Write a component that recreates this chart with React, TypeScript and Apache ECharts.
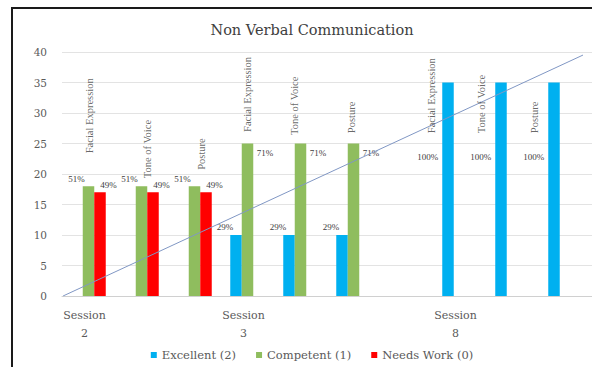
import React, { useEffect, useRef } from "react";
import * as echarts from "echarts";

// Category axis (one slot per sub-item; slot 6 is an empty gap)
const sessionLabels = ["Session\n2", "", "", "Session\n3", "", "", "", "Session\n8", "", ""];
const subLabels = [
  "Facial Expression", "Tone of Voice", "Posture",
  "Facial Expression", "Tone of Voice", "Posture",
  "",
  "Facial Expression", "Tone of Voice", "Posture",
];
// Series values (students per rating)
const excellent = [null, null, null, 10, 10, 10, null, 35, 35, 35];
const competent = [18, 18, 18, 25, 25, 25, null, null, null, null];
const needsWork = [17, 17, 17, null, null, null, null, null, null, null];
// Level (value units) where each rotated sub-item caption starts
const subLabelLevel = [23.4, 19.3, 20.7, 26.9, 26.4, 26.7, null, 26.7, 26.7, 26.7];
// Linear trendline endpoints (x in category units, y in values)
const trendX = [-0.48, 9.33];
const trendY = [0, 39.5];
const yTicks = { min: 0, max: 40, interval: 5 };

// style-only: horizontal nudge (px) of the rotated captions
const subLabelDx = [1, 6, 7, 0, -6, -2, 0, -28, -31, -31];

const BLUE = "#00b0f0";
const GREEN = "#8fbd5e";
const RED = "#ff0000";
const SERIF_WIDE = "DejaVu Serif";
const SERIF = "Liberation Serif";
const TEXT = "#5a5a5a";

export default function App() {
  const ref = useRef<HTMLDivElement>(null);

  useEffect(() => {
    document.body.style.margin = "0";
    const chart = echarts.init(ref.current!, null, { renderer: "svg" });

    const totals = sessionLabels.map(
      (_, i) => (excellent[i] || 0) + (competent[i] || 0) + (needsWork[i] || 0)
    );
    const pct = (v: number, i: number) => Math.round((v / totals[i]) * 100) + "%";
    const pctText = { fontFamily: SERIF, fontSize: 9, color: "#404040" };

    const barData = (arr: (number | null)[], place: (i: number) => any) =>
      arr.map((v, i) =>
        v == null
          ? "-"
          : {
              value: v,
              label: { show: true, formatter: pct(v, i), ...pctText, ...place(i) },
            }
      );

    // label offset is applied in the rotated frame: local y maps to screen x
    const captionData: any[] = [];
    subLabelLevel.forEach((lv, i) => {
      if (lv == null) return;
      captionData.push({
        value: [i, lv],
        label: { formatter: subLabels[i], offset: [0, subLabelDx[i]] },
      });
    });

    const option: any = {
      animation: false,
      backgroundColor: "#ffffff",
      title: {
        text: "Non Verbal Communication",
        left: "center",
        top: 8,
        textStyle: { fontFamily: SERIF_WIDE, fontSize: 14.5, fontWeight: "normal", color: "#404040" },
      },
      legend: {
        data: ["Excellent (2)", "Competent (1)", "Needs Work (0)"],
        left: "center",
        top: 335,
        icon: "rect",
        itemWidth: 6,
        itemHeight: 6,
        itemGap: 20,
        textStyle: { fontFamily: SERIF_WIDE, fontSize: 11.5, color: TEXT },
      },
      grid: { left: 49, top: 43, width: 530, height: 244, containLabel: false },
      xAxis: [
        {
          type: "category",
          data: sessionLabels,
          axisTick: { show: false },
          axisLine: { lineStyle: { color: "#d0d0d0" } },
          axisLabel: {
            interval: 0,
            margin: 10,
            lineHeight: 18,
            padding: [0, 8, 0, 0],
            fontFamily: SERIF_WIDE,
            fontSize: 11,
            color: TEXT,
          },
        },
        {
          type: "value",
          min: -0.5,
          max: 9.5,
          show: false,
        },
      ],
      yAxis: {
        type: "value",
        min: yTicks.min,
        max: yTicks.max,
        interval: yTicks.interval,
        axisLine: { show: false },
        axisTick: { show: false },
        splitLine: { lineStyle: { color: "#e3e3e3" } },
        axisLabel: { margin: 15, fontFamily: SERIF_WIDE, fontSize: 10.5, color: TEXT },
      },
      series: [
        {
          name: "Excellent (2)",
          type: "bar",
          barWidth: 11.5,
          barGap: "0%",
          itemStyle: { color: BLUE },
          data: barData(excellent, (i) =>
            i < 7
              ? { position: [3, -4], align: "right", verticalAlign: "bottom" }
              : { position: [-4, 74], align: "right", verticalAlign: "middle" }
          ),
        },
        {
          name: "Competent (1)",
          type: "bar",
          barWidth: 11.5,
          barGap: "0%",
          itemStyle: { color: GREEN },
          data: barData(competent, (i) =>
            i < 3
              ? { position: [2, -3], align: "right", verticalAlign: "bottom" }
              : { position: [15, 9], align: "left", verticalAlign: "middle" }
          ),
        },
        {
          name: "Needs Work (0)",
          type: "bar",
          barWidth: 11.5,
          barGap: "0%",
          itemStyle: { color: RED },
          data: barData(needsWork, () => ({ position: [6, -3], align: "left", verticalAlign: "bottom" })),
        },
        {
          name: "trend",
          type: "line",
          xAxisIndex: 1,
          symbol: "none",
          z: 5,
          lineStyle: { color: "#8097c4", width: 1 },
          data: trendX.map((x, k) => [x, trendY[k]]),
        },
        {
          name: "captions",
          type: "scatter",
          symbolSize: 2,
          z: 6,
          itemStyle: { color: "rgba(0,0,0,0)" },
          silent: true,
          data: captionData,
          label: {
            show: true,
            position: "inside",
            rotate: 90,
            align: "left",
            verticalAlign: "middle",
            fontFamily: SERIF,
            fontSize: 10.5,
            color: "#404040",
          },
        },
      ],
    };

    chart.setOption(option);
    return () => chart.dispose();
  }, []);

  return (
    <div
      style={{
        position: "fixed",
        left: 0,
        top: 0,
        width: 592,
        height: 367,
        overflow: "hidden",
        background: "#ffffff",
      }}
    >
      <div
        style={{
          position: "absolute",
          left: 11,
          top: 7,
          border: "2px solid #1a1a1a",
          width: 598,
          height: 370,
        }}
      >
        <div ref={ref} style={{ width: 598, height: 370 }} />
      </div>
    </div>
  );
}
